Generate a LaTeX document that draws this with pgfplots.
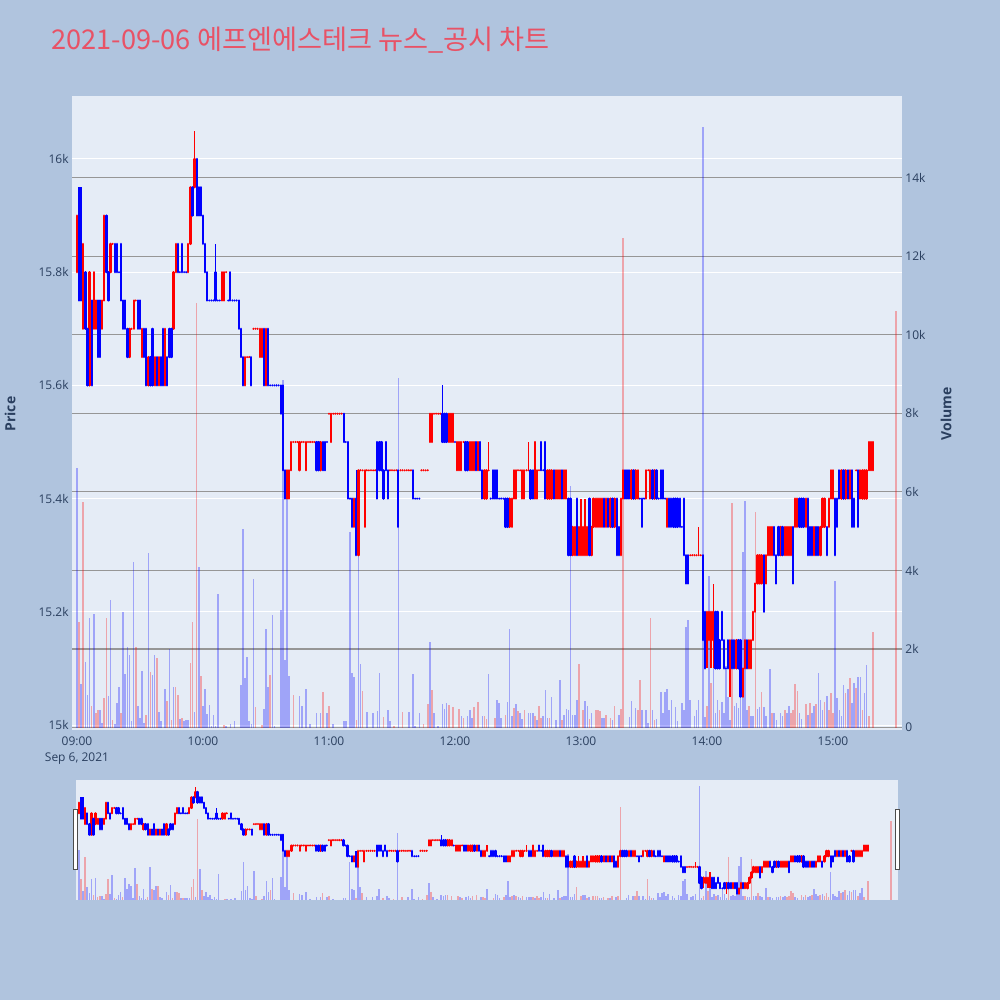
\documentclass[border=0pt]{standalone}
\usepackage{pgfplots}
\pgfplotsset{compat=1.18}
\usepackage{pgfplotstable}
\usepackage{fontspec}
\setmainfont{Open Sans}
\newfontfamily\kr{Noto Sans CJK KR}

\definecolor{page}{RGB}{176,196,222}
\definecolor{plotbg}{RGB}{229,236,246}
\definecolor{tickc}{RGB}{42,63,95}
\definecolor{ttl}{RGB}{232,82,102}
\definecolor{grid2}{RGB}{150,150,150}
\definecolor{upc}{RGB}{255,0,0}
\definecolor{dnc}{RGB}{0,0,255}

% 1-minute candles, t = minutes after 09:00
\pgfplotstableread{
t o h l c
0 15800 15900 15800 15900
3 15700 15850 15700 15850
6 15600 15800 15600 15800
8 15700 15800 15700 15800
9 15700 15750 15700 15750
12 15700 15750 15700 15750
13 15750 15900 15750 15900
16 15800 15850 15800 15850
17 15850 15850 15850 15850
25 15650 15700 15650 15700
26 15700 15700 15700 15700
27 15700 15750 15700 15750
28 15750 15750 15750 15750
31 15650 15700 15650 15700
34 15600 15650 15600 15650
37 15600 15650 15600 15650
39 15600 15650 15600 15650
42 15600 15700 15600 15700
46 15700 15800 15700 15800
47 15800 15850 15800 15850
53 15800 15850 15800 15850
54 15850 15950 15850 15950
56 15950 16050 15950 16000
69 15750 15800 15750 15800
70 15750 15800 15750 15800
71 15800 15800 15800 15800
80 15600 15650 15600 15650
81 15650 15650 15650 15650
82 15650 15650 15650 15650
84 15700 15700 15700 15700
85 15700 15700 15700 15700
86 15700 15700 15700 15700
87 15650 15700 15650 15700
88 15650 15700 15650 15700
90 15600 15700 15600 15700
100 15400 15450 15400 15450
101 15400 15450 15400 15450
102 15450 15500 15450 15500
103 15500 15500 15500 15500
104 15500 15500 15500 15500
105 15500 15500 15500 15500
106 15450 15500 15450 15500
107 15500 15500 15500 15500
108 15500 15500 15500 15500
109 15450 15500 15450 15500
110 15500 15500 15500 15500
111 15500 15500 15500 15500
112 15500 15500 15500 15500
113 15500 15500 15500 15500
116 15450 15500 15450 15500
120 15550 15550 15550 15550
121 15500 15550 15500 15550
122 15550 15550 15550 15550
123 15550 15550 15550 15550
124 15550 15550 15550 15550
125 15550 15550 15550 15550
126 15550 15550 15550 15550
132 15350 15400 15350 15400
134 15300 15450 15300 15450
135 15450 15450 15450 15450
136 15450 15450 15450 15450
137 15350 15450 15350 15450
138 15450 15450 15450 15450
139 15450 15450 15450 15450
140 15450 15450 15450 15450
141 15450 15450 15450 15450
142 15450 15450 15450 15450
149 15450 15450 15450 15450
150 15450 15450 15450 15450
151 15450 15450 15450 15450
152 15450 15450 15450 15450
154 15450 15450 15450 15450
155 15450 15450 15450 15450
156 15450 15450 15450 15450
157 15450 15450 15450 15450
158 15450 15450 15450 15450
159 15450 15450 15450 15450
164 15450 15450 15450 15450
165 15450 15450 15450 15450
166 15450 15450 15450 15450
167 15450 15450 15450 15450
168 15500 15550 15500 15550
169 15500 15550 15500 15550
170 15550 15550 15550 15550
171 15550 15550 15550 15550
172 15550 15550 15550 15550
173 15550 15550 15550 15550
177 15500 15550 15500 15550
178 15500 15550 15500 15550
179 15500 15550 15500 15550
181 15450 15500 15450 15500
182 15450 15500 15450 15500
183 15450 15500 15450 15500
184 15500 15500 15500 15500
187 15450 15500 15450 15500
188 15450 15500 15450 15500
189 15450 15500 15450 15500
191 15450 15500 15450 15500
194 15400 15450 15400 15450
195 15400 15450 15400 15450
196 15450 15500 15450 15450
206 15350 15400 15350 15400
207 15350 15400 15350 15400
208 15400 15450 15400 15450
209 15400 15450 15400 15450
210 15450 15450 15450 15450
211 15450 15450 15450 15450
212 15400 15450 15400 15450
213 15400 15450 15400 15450
214 15450 15450 15450 15450
215 15450 15500 15450 15450
218 15400 15500 15400 15500
219 15400 15450 15400 15450
220 15450 15450 15450 15450
224 15400 15450 15400 15450
225 15400 15450 15400 15450
226 15400 15450 15400 15450
228 15400 15450 15400 15450
229 15400 15450 15400 15450
230 15400 15450 15400 15450
232 15400 15450 15400 15450
233 15400 15450 15400 15450
236 15300 15350 15300 15350
237 15300 15350 15300 15350
239 15300 15350 15300 15350
240 15300 15400 15300 15350
241 15300 15350 15300 15350
242 15300 15400 15300 15350
243 15300 15350 15300 15350
245 15300 15350 15300 15350
246 15350 15400 15350 15400
247 15350 15400 15350 15400
248 15350 15400 15350 15400
249 15350 15400 15350 15400
250 15350 15400 15350 15400
252 15350 15400 15350 15400
254 15350 15400 15350 15400
256 15350 15400 15350 15400
259 15300 15400 15300 15400
260 15400 15450 15400 15450
264 15400 15450 15400 15450
266 15400 15450 15400 15450
267 15400 15450 15400 15450
271 15400 15450 15400 15450
272 15450 15450 15450 15450
273 15400 15450 15400 15450
275 15400 15450 15400 15450
281 15350 15400 15350 15400
292 15300 15300 15300 15300
293 15300 15300 15300 15300
294 15300 15300 15300 15300
295 15300 15300 15300 15300
296 15300 15350 15300 15300
297 15300 15300 15300 15300
300 15150 15200 15100 15200
301 15150 15200 15150 15200
302 15150 15200 15100 15200
303 15150 15250 15100 15200
311 15100 15150 15050 15150
314 15100 15150 15100 15150
317 15050 15100 15050 15100
318 15100 15150 15100 15150
320 15100 15150 15100 15150
321 15100 15150 15100 15150
322 15150 15200 15150 15200
323 15200 15250 15200 15250
324 15250 15300 15250 15300
325 15250 15300 15250 15300
326 15250 15300 15250 15300
328 15250 15300 15250 15300
329 15300 15350 15300 15350
330 15300 15350 15300 15350
331 15300 15350 15300 15350
335 15300 15350 15300 15350
337 15300 15350 15300 15350
338 15300 15350 15300 15350
339 15300 15350 15300 15350
340 15300 15350 15300 15350
342 15350 15400 15350 15400
343 15350 15400 15350 15400
347 15350 15400 15350 15400
351 15300 15350 15300 15350
354 15300 15350 15300 15350
355 15350 15400 15350 15400
356 15350 15400 15350 15400
358 15350 15400 15350 15400
359 15400 15450 15400 15450
360 15400 15450 15400 15450
364 15400 15450 15400 15450
366 15400 15450 15400 15450
368 15400 15450 15400 15450
371 15450 15450 15450 15450
373 15400 15450 15400 15450
374 15400 15450 15400 15450
375 15400 15450 15400 15450
376 15400 15450 15400 15450
377 15450 15500 15450 15500
378 15450 15500 15450 15500
379 15450 15500 15450 15500
}\up

\pgfplotstableread{
t o h l c
1 15900 15950 15750 15750
2 15800 15950 15750 15750
4 15800 15800 15700 15700
5 15700 15700 15600 15600
7 15750 15750 15600 15600
10 15750 15750 15650 15650
11 15750 15750 15650 15650
14 15900 15900 15800 15800
15 15800 15800 15750 15750
18 15850 15850 15800 15800
19 15850 15850 15800 15800
20 15800 15800 15800 15800
21 15850 15850 15750 15750
22 15750 15750 15700 15700
23 15750 15750 15700 15700
24 15700 15700 15650 15650
29 15750 15750 15700 15700
30 15750 15750 15700 15700
32 15700 15700 15650 15650
33 15700 15700 15600 15600
35 15650 15650 15600 15600
36 15700 15700 15600 15600
38 15650 15650 15600 15600
40 15650 15650 15600 15600
41 15700 15700 15600 15600
43 15650 15650 15600 15600
44 15700 15700 15650 15650
45 15700 15700 15650 15650
48 15850 15850 15800 15800
49 15800 15800 15800 15800
50 15850 15850 15800 15800
51 15800 15800 15800 15800
52 15800 15800 15800 15800
55 15950 15950 15900 15900
57 16000 16000 15900 15900
58 15950 15950 15900 15900
59 15950 15950 15900 15900
60 15900 15900 15850 15850
61 15850 15850 15800 15800
62 15800 15800 15750 15750
63 15750 15750 15750 15750
64 15750 15750 15750 15750
65 15750 15750 15750 15750
66 15800 15850 15750 15750
67 15750 15750 15750 15750
68 15750 15750 15750 15750
72 15750 15750 15750 15750
73 15800 15800 15750 15750
74 15750 15750 15750 15750
75 15750 15750 15750 15750
76 15750 15750 15750 15750
77 15750 15750 15700 15700
78 15700 15700 15650 15650
79 15650 15650 15600 15600
83 15650 15650 15600 15600
89 15700 15700 15600 15600
91 15700 15700 15600 15600
92 15600 15600 15600 15600
93 15600 15600 15600 15600
94 15600 15600 15600 15600
95 15600 15600 15600 15600
96 15600 15600 15600 15600
97 15600 15600 15550 15550
98 15600 15600 15450 15450
99 15450 15450 15400 15400
114 15500 15500 15450 15450
115 15500 15500 15450 15450
117 15500 15500 15450 15450
118 15500 15500 15450 15450
119 15500 15500 15500 15500
127 15550 15550 15500 15500
128 15500 15500 15500 15500
129 15500 15500 15400 15400
130 15400 15400 15400 15400
131 15400 15400 15350 15350
133 15400 15450 15300 15300
143 15500 15500 15400 15400
144 15500 15500 15450 15450
145 15500 15500 15450 15450
146 15450 15450 15400 15400
147 15500 15500 15450 15450
148 15450 15450 15400 15400
153 15450 15450 15350 15350
160 15450 15450 15400 15400
161 15400 15400 15400 15400
162 15400 15400 15400 15400
163 15400 15400 15400 15400
174 15550 15600 15500 15500
175 15550 15550 15500 15500
176 15550 15550 15500 15500
180 15500 15500 15500 15500
185 15500 15500 15450 15450
186 15500 15500 15450 15450
190 15500 15500 15450 15450
192 15500 15500 15450 15450
193 15450 15450 15400 15400
197 15400 15400 15400 15400
198 15450 15450 15400 15400
199 15450 15450 15400 15400
200 15450 15450 15400 15400
201 15400 15400 15400 15400
202 15400 15400 15400 15400
203 15400 15400 15400 15400
204 15400 15400 15350 15350
205 15400 15400 15350 15350
216 15450 15450 15400 15400
217 15450 15450 15400 15400
221 15500 15500 15450 15450
222 15450 15450 15450 15450
223 15500 15500 15400 15400
227 15450 15450 15400 15400
231 15450 15450 15400 15400
234 15400 15400 15300 15300
235 15400 15400 15300 15300
238 15400 15400 15300 15300
244 15400 15400 15300 15300
251 15400 15400 15350 15350
253 15400 15400 15350 15350
255 15400 15400 15350 15350
257 15400 15400 15300 15300
258 15350 15350 15300 15300
261 15450 15450 15400 15400
262 15450 15450 15400 15400
263 15450 15450 15400 15400
265 15450 15450 15400 15400
268 15400 15400 15400 15400
269 15400 15400 15350 15350
270 15400 15400 15400 15400
274 15450 15450 15400 15400
276 15450 15450 15400 15400
277 15400 15400 15400 15400
278 15450 15450 15400 15400
279 15450 15450 15400 15400
280 15400 15400 15400 15400
282 15400 15400 15350 15350
283 15400 15400 15350 15350
284 15400 15400 15350 15350
285 15400 15400 15350 15350
286 15400 15400 15350 15350
287 15400 15400 15350 15350
288 15350 15350 15350 15350
289 15400 15400 15300 15300
290 15300 15300 15250 15250
291 15300 15300 15250 15250
298 15300 15300 15150 15150
299 15200 15200 15100 15100
304 15200 15200 15100 15100
305 15200 15200 15100 15100
306 15150 15150 15100 15100
307 15200 15200 15150 15150
308 15150 15150 15100 15100
309 15100 15100 15100 15100
310 15150 15150 15100 15100
312 15150 15150 15100 15100
313 15150 15150 15100 15100
315 15150 15150 15100 15100
316 15150 15150 15050 15050
319 15150 15150 15100 15100
327 15300 15300 15200 15200
332 15350 15350 15300 15300
333 15300 15300 15250 15250
334 15350 15350 15300 15300
336 15350 15350 15300 15300
341 15350 15350 15250 15250
344 15400 15400 15350 15350
345 15400 15400 15350 15350
346 15400 15400 15350 15350
348 15400 15400 15300 15300
349 15350 15350 15300 15300
350 15350 15350 15300 15300
352 15350 15350 15300 15300
353 15350 15350 15300 15300
357 15350 15350 15300 15300
361 15400 15400 15300 15300
362 15400 15400 15350 15350
363 15450 15450 15400 15400
365 15450 15450 15400 15400
367 15450 15450 15400 15400
369 15450 15450 15350 15350
370 15400 15400 15350 15350
372 15450 15450 15350 15350
}\dn

% volume, red and blue bars
\pgfplotstableread{
t v
1 2700
3 5730
7 560
9 360
10 460
13 750
14 2790
17 200
21 370
28 2040
33 330
35 1410
38 1770
43 670
45 200
47 1030
48 820
50 240
54 1650
55 2700
57 10800
59 1320
70 70
85 520
88 60
92 1340
103 840
117 900
120 540
133 200
136 920
146 270
151 50
155 390
165 80
167 590
169 950
177 580
179 530
182 480
184 250
189 530
191 640
194 290
195 220
199 250
204 330
208 500
210 420
213 440
218 290
220 540
221 250
225 250
231 200
239 1630
241 460
244 220
247 460
248 460
249 420
252 330
254 250
256 540
259 470
260 12470
267 460
268 1200
273 2800
275 200
300 540
302 1140
306 460
312 5720
320 540
323 5500
326 900
331 370
337 460
340 370
341 460
342 1100
343 920
347 610
349 630
352 610
356 650
358 460
359 880
360 370
366 880
368 1260
371 1010
374 460
377 290
379 2430
390 10600
}\vr

\pgfplotstableread{
t v
0 6600
2 1100
4 1660
5 840
6 2800
8 2900
11 440
12 120
15 800
16 3240
18 80
19 630
20 1030
22 2940
23 1370
24 2050
25 1840
26 170
27 4220
29 540
30 240
31 1430
32 120
34 4440
36 1350
37 1840
39 400
40 160
42 980
44 2010
46 1030
49 220
51 160
52 200
53 190
56 390
58 4080
60 540
61 990
62 350
63 580
64 50
65 330
66 30
67 3410
71 30
73 100
75 160
78 1090
79 5060
80 1270
81 1790
82 160
83 80
84 3790
89 470
90 2520
91 1030
93 2860
94 30
97 3000
98 8860
99 1710
100 5820
101 1320
106 800
107 560
109 980
111 80
114 370
116 370
119 370
122 100
127 160
128 170
130 4990
131 1400
132 1290
134 4400
135 1630
138 390
141 370
143 420
144 1390
148 460
149 180
153 8900
158 390
160 1370
161 30
163 370
168 2170
170 370
172 50
174 610
175 480
176 630
183 290
186 290
187 460
188 250
193 290
196 1370
200 710
201 630
202 250
205 640
206 2510
207 290
209 610
211 370
212 220
215 370
216 370
217 370
219 200
222 290
223 950
224 250
226 780
228 200
230 1220
232 330
233 480
234 460
235 6160
236 330
237 330
238 710
242 670
243 560
245 370
250 250
251 250
255 200
258 330
263 270
264 670
266 500
269 460
271 460
272 120
274 460
276 220
278 910
279 370
280 910
281 970
282 460
283 710
285 530
286 160
288 630
289 460
290 2560
291 2730
292 710
294 290
295 460
296 710
298 15300
299 270
301 3870
303 2620
304 380
305 710
307 650
308 370
309 1560
310 770
311 200
313 540
314 630
315 500
316 750
317 4460
318 5760
319 460
321 290
322 290
324 480
325 530
327 530
328 300
330 1490
332 370
333 200
335 370
336 290
338 370
339 540
344 370
345 220
348 330
350 370
351 540
353 1390
354 710
355 460
357 800
361 3720
362 750
363 460
364 290
365 1090
367 970
369 630
370 1140
372 1300
373 1300
375 880
376 1600
}\vb

\pgfplotsset{
  base/.style={scale only axis, anchor=south west, axis line style={draw=none},
    major tick length=0pt, scaled ticks=false, xmin=-2.38, xmax=392.86},
  wickU/.style={forget plot, upc, draw=none, mark=none, error bars/.cd, y dir=plus,
    y explicit, error mark=none, error bar style={line width=0.75bp, draw=upc}},
  wickD/.style={forget plot, dnc, draw=none, mark=none, error bars/.cd, y dir=plus,
    y explicit, error mark=none, error bar style={line width=0.75bp, draw=dnc}},
  bodyU/.style={forget plot, upc, draw=none, mark=none, error bars/.cd, y dir=plus,
    y explicit, error mark=none, error bar style={line width=1.15bp, line cap=round, draw=upc}},
  bodyD/.style={forget plot, dnc, draw=none, mark=none, error bars/.cd, y dir=plus,
    y explicit, error mark=none, error bar style={line width=1.15bp, line cap=round, draw=dnc}},
  vol/.style={forget plot, ycomb, mark=none, draw=#1, draw opacity=0.3, line width=0.8bp},
  lbl/.style={font=\fontsize{6bp}{8bp}\selectfont, text=tickc, inner sep=0pt},
}

\newcommand\candles{%
  \addplot[wickU] table[x=t, y=l, y error plus expr=\thisrow{h}-\thisrow{l}] {\up};
  \addplot[bodyU] table[x=t, y=o, y error plus expr=\thisrow{c}-\thisrow{o}] {\up};
  \addplot[wickD] table[x=t, y=l, y error plus expr=\thisrow{h}-\thisrow{l}] {\dn};
  \addplot[bodyD] table[x=t, y=c, y error plus expr=\thisrow{o}-\thisrow{c}] {\dn};
}
\newcommand\volumes{%
  \addplot[vol=blue] table[x=t, y=v] {\vb};
  \addplot[vol=red] table[x=t, y=v] {\vr};
}

\begin{document}
\begin{tikzpicture}
\fill[page] (0,0) rectangle (500bp,500bp);

% price axis: background, white grid, labels
\begin{axis}[base, at={(36bp,135bp)}, width=415bp, height=317bp,
  ymin=14991.2, ymax=16111.3,
  axis background/.style={fill=plotbg},
  ytick={15000,15200,15400,15600,15800,16000},
  yticklabels={15k,15.2k,15.4k,15.6k,15.8k,16k},
  ymajorgrids, major grid style={white, line width=0.5bp},
  xtick={0,60,120,180,240,300,360},
  xticklabels={{09:00\\Sep 6, 2021},10:00,11:00,12:00,13:00,14:00,15:00},
  xticklabel style={lbl, align=center, anchor=north, yshift=-3bp},
  yticklabel style={lbl, anchor=east, xshift=-1.5bp},
]
\end{axis}

% volume axis
\begin{axis}[base, at={(36bp,135bp)}, width=415bp, height=317bp,
  ymin=-61, ymax=16077, xtick=\empty,
  ytick={0,2000,4000,6000,8000,10000,12000,14000},
  yticklabels={0,2k,4k,6k,8k,10k,12k,14k},
  yticklabel pos=right,
  ymajorgrids, major grid style={grid2, line width=0.6bp},
  yticklabel style={lbl, anchor=west, xshift=1.5bp},
]
\volumes
\end{axis}

% candles
\begin{axis}[base, at={(36bp,135bp)}, width=415bp, height=317bp,
  ymin=14991.2, ymax=16111.3, xtick=\empty, ytick=\empty]
\candles
\end{axis}

% range slider
\begin{axis}[base, at={(38bp,50bp)}, width=411bp, height=60bp,
  xmin=-1.42, xmax=393.34, ymin=-61, ymax=16077,
  axis background/.style={fill=plotbg}, xtick=\empty, ytick=\empty]
\volumes
\end{axis}
\begin{axis}[base, at={(38bp,50bp)}, width=411bp, height=60bp,
  xmin=-1.42, xmax=393.34, ymin=14991.2, ymax=16111.3,
  xtick=\empty, ytick=\empty]
\candles
\end{axis}
\draw[fill=white, draw=black!70, line width=0.5bp] (36.5bp,65bp) rectangle (38.5bp,95bp);
\draw[fill=white, draw=black!70, line width=0.5bp] (447.5bp,65bp) rectangle (449.5bp,95bp);

\node[rotate=90, text=tickc, font=\bfseries\fontsize{7bp}{8bp}\selectfont] at (5bp,293bp) {Price};
\node[rotate=90, text=tickc, font=\bfseries\fontsize{7bp}{8bp}\selectfont] at (473bp,293bp) {Volume};
\node[anchor=base west, inner sep=0pt, text=ttl, font=\kr\fontsize{13.6bp}{14bp}\selectfont]
  at (25.5bp,475bp) {2021-09-06 에프엔에스테크 뉴스\_공시 차트};

\pgfresetboundingbox
\useasboundingbox (0,0) rectangle (500bp,500bp);
\end{tikzpicture}
\end{document}
